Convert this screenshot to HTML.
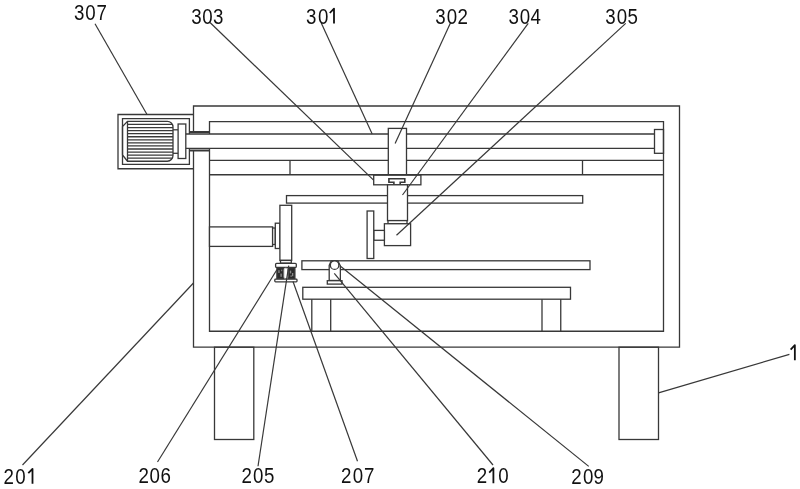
<!DOCTYPE html>
<html><head><meta charset="utf-8"><style>
html,body{margin:0;padding:0;background:#fff;}
svg{display:block;will-change:transform;}
text{font-family:"Liberation Sans",sans-serif;font-size:22.0px;fill:#111;}
</style></head><body>
<svg width="800" height="489" viewBox="0 0 800 489">
<g fill="none" stroke="#383838" stroke-width="1.3">
<path d="M193.5,131.9 V106 H679.5 V347.2 H193.5 V150.65" fill="none"/>
<path d="M209.5,134.0 V121.7 H663.5 V331.25 H209.5 V148.4" fill="none"/>
<rect x="214.5" y="347.2" width="39.3" height="92.3" fill="none"/>
<rect x="619" y="347.2" width="39.5" height="92.3" fill="none"/>
<path d="M193.5,114.5 H118 V168.75 H193.5" fill="none"/>
<path d="M189.4,134.0 V118.6 H122.5 V164.4 H189.4 V148.4" fill="none"/>
<path d="M127.5,121.4 H167.3 A5.7,5.7 0 0 1 173,127.1 V155.55 A5.7,5.7 0 0 1 167.3,161.25 H127.5 L122.5,155 V126.6 Z" fill="none"/>
<line x1="127.5" y1="121.4" x2="127.5" y2="161.25"/>
<line x1="127.5" y1="124.47" x2="172.36" y2="124.47"/>
<line x1="127.5" y1="127.53" x2="173" y2="127.53"/>
<line x1="127.5" y1="130.6" x2="173" y2="130.6"/>
<line x1="127.5" y1="133.66" x2="173" y2="133.66"/>
<line x1="127.5" y1="136.73" x2="173" y2="136.73"/>
<line x1="127.5" y1="139.79" x2="173" y2="139.79"/>
<line x1="127.5" y1="142.86" x2="173" y2="142.86"/>
<line x1="127.5" y1="145.92" x2="173" y2="145.92"/>
<line x1="127.5" y1="148.99" x2="173" y2="148.99"/>
<line x1="127.5" y1="152.05" x2="173" y2="152.05"/>
<line x1="127.5" y1="155.12" x2="173" y2="155.12"/>
<line x1="127.5" y1="158.18" x2="172.36" y2="158.18"/>
<line x1="173" y1="129.8" x2="178.1" y2="129.8"/>
<line x1="173" y1="153.3" x2="178.1" y2="153.3"/>
<rect x="178.1" y="124" width="7.7" height="34.5" fill="none"/>
<line x1="185.8" y1="134.0" x2="654.5" y2="134.0"/>
<line x1="185.8" y1="148.4" x2="654.5" y2="148.4"/>
<line x1="189.4" y1="132" x2="209.5" y2="132" stroke-width="2"/>
<line x1="189.4" y1="150.5" x2="209.5" y2="150.5" stroke-width="2"/>
<rect x="654.5" y="129.5" width="9.0" height="23.8" fill="none"/>
<line x1="209.5" y1="160.3" x2="663.5" y2="160.3"/>
<line x1="209.5" y1="174.85" x2="663.5" y2="174.85" stroke-width="1.5"/>
<line x1="290" y1="160.3" x2="290" y2="174.85"/>
<line x1="582.5" y1="160.3" x2="582.5" y2="174.85"/>
<rect x="286.5" y="195.6" width="296.2" height="7.5" fill="none"/>
<rect x="388.3" y="128.4" width="18.2" height="46.45" fill="#fff"/>
<rect x="373.7" y="174.85" width="47.2" height="9.95" fill="#fff"/>
<line x1="373.6" y1="174.85" x2="420.85" y2="174.85" stroke-width="1.8"/>
<path d="M393.9,184.8 V182.3 H388.9 V178.8 H404.8 V182.3 H400.2 V184.8" fill="none" stroke-width="1.6"/>
<rect x="387.5" y="184.8" width="20.0" height="35.8" fill="#fff"/>
<rect x="388" y="220.6" width="19" height="3.15" fill="#fff"/>
<rect x="384.4" y="223.75" width="26.2" height="21.85" fill="#fff"/>
<rect x="373.75" y="230.4" width="10.65" height="9.85" fill="#fff"/>
<rect x="367.1" y="211" width="6.65" height="47.5" fill="#fff"/>
<rect x="209.5" y="226.9" width="63.1" height="19.5" fill="#fff"/>
<rect x="272.6" y="228" width="2.7" height="16.5" fill="#fff"/>
<rect x="275.3" y="223.2" width="4.6" height="25.3" fill="#fff"/>
<rect x="279.9" y="205.3" width="11.8" height="55.1" fill="#fff"/>
<rect x="280.5" y="260.4" width="10.8" height="2.7" fill="#fff"/>
<rect x="275.6" y="263.3" width="20.7" height="4.1" fill="#fff" rx="1"/>
<rect x="276.9" y="267.8" width="6.5" height="11.1" fill="#2a2a2a"/>
<rect x="288.3" y="267.8" width="6.6" height="11.1" fill="#2a2a2a"/>
<rect x="278.3" y="270.2" width="1.3" height="2.8" fill="#8a8a8a" stroke="none"/>
<rect x="280.4" y="273.6" width="1.4" height="3.2" fill="#8a8a8a" stroke="none"/>
<rect x="289.8" y="270.6" width="1.4" height="2.8" fill="#8a8a8a" stroke="none"/>
<rect x="292.0" y="273.0" width="1.3" height="3.2" fill="#8a8a8a" stroke="none"/>
<rect x="281.2" y="269.6" width="1.0" height="1.6" fill="#8a8a8a" stroke="none"/>
<rect x="290.6" y="275.2" width="1.0" height="1.8" fill="#8a8a8a" stroke="none"/>
<rect x="283.9" y="268" width="3.9" height="10.8" rx="1.9" fill="#fff" stroke="#999" stroke-width="0.8"/>
<rect x="274.8" y="279.2" width="22.2" height="2.6" fill="#fff" rx="0.8"/>
<rect x="301.9" y="260.8" width="288.1" height="8.8" fill="none"/>
<path d="M331.2,261 H337.9 L340.35,265.8 V280.7 H329.2 V265.5 Z" fill="#fff"/>
<circle cx="334.6" cy="265.15" r="4.25" fill="#fff"/>
<line x1="329.2" y1="280.7" x2="340.35" y2="280.7" stroke-width="1.8"/>
<rect x="327.3" y="280.7" width="14.7" height="3.4" fill="#fff"/>
<rect x="302.8" y="287.3" width="267.7" height="11.9" fill="none"/>
<line x1="311.8" y1="299.2" x2="311.8" y2="331.25"/>
<line x1="330.7" y1="299.2" x2="330.7" y2="331.25"/>
<line x1="542" y1="299.3" x2="542" y2="331.25"/>
<line x1="560.75" y1="299.3" x2="560.75" y2="331.25"/>
<line x1="334.3" y1="273.3" x2="493" y2="465" stroke-width="1.2"/>
<line x1="339.9" y1="265.7" x2="588.75" y2="466.4" stroke-width="1.2"/>
<line x1="276.9" y1="269.7" x2="157.5" y2="462" stroke-width="1.2"/>
<line x1="288.75" y1="265.7" x2="258" y2="466.25" stroke-width="1.2"/>
<line x1="293" y1="281.5" x2="357.5" y2="461.25" stroke-width="1.2"/>
<line x1="193.5" y1="283" x2="22.5" y2="465" stroke-width="1.2"/>
<line x1="658.5" y1="392.8" x2="789.4" y2="354.4" stroke-width="1.2"/>
<line x1="95" y1="23.75" x2="147" y2="114.5" stroke-width="1.2"/>
<line x1="210" y1="22.5" x2="373.6" y2="180.1" stroke-width="1.2"/>
<line x1="321.25" y1="23" x2="372.2" y2="133.9" stroke-width="1.2"/>
<line x1="450.9" y1="22.1" x2="395.1" y2="143.6" stroke-width="1.2"/>
<line x1="528.2" y1="23.4" x2="402.5" y2="195" stroke-width="1.2"/>
<line x1="625.7" y1="23.4" x2="396.5" y2="235.25" stroke-width="1.2"/>
</g>
<g>
<text transform="translate(79.1,19.8) scale(0.85,1)" text-anchor="middle">3</text>
<text transform="translate(90.45,19.8) scale(0.85,1)" text-anchor="middle">0</text>
<text transform="translate(101.75,19.8) scale(0.85,1)" text-anchor="middle">7</text>
<text transform="translate(196.5,23.6) scale(0.85,1)" text-anchor="middle">3</text>
<text transform="translate(207.5,23.6) scale(0.85,1)" text-anchor="middle">0</text>
<text transform="translate(218.2,23.6) scale(0.85,1)" text-anchor="middle">3</text>
<text transform="translate(311.25,23.6) scale(0.85,1)" text-anchor="middle">3</text>
<text transform="translate(323.1,23.6) scale(0.85,1)" text-anchor="middle">0</text>
<text transform="translate(440.4,23.6) scale(0.85,1)" text-anchor="middle">3</text>
<text transform="translate(452.0,23.6) scale(0.85,1)" text-anchor="middle">0</text>
<text transform="translate(462.75,23.6) scale(0.85,1)" text-anchor="middle">2</text>
<text transform="translate(513.8,23.5) scale(0.85,1)" text-anchor="middle">3</text>
<text transform="translate(525.0,23.5) scale(0.85,1)" text-anchor="middle">0</text>
<text transform="translate(535.6,23.5) scale(0.85,1)" text-anchor="middle">4</text>
<text transform="translate(610.5,23.6) scale(0.85,1)" text-anchor="middle">3</text>
<text transform="translate(622.0,23.6) scale(0.85,1)" text-anchor="middle">0</text>
<text transform="translate(632.7,23.6) scale(0.85,1)" text-anchor="middle">5</text>
<text transform="translate(8.8,483.8) scale(0.85,1)" text-anchor="middle">2</text>
<text transform="translate(20.4,483.8) scale(0.85,1)" text-anchor="middle">0</text>
<text transform="translate(143.6,483.3) scale(0.85,1)" text-anchor="middle">2</text>
<text transform="translate(154.7,483.3) scale(0.85,1)" text-anchor="middle">0</text>
<text transform="translate(165.8,483.3) scale(0.85,1)" text-anchor="middle">6</text>
<text transform="translate(246.8,483.4) scale(0.85,1)" text-anchor="middle">2</text>
<text transform="translate(258.2,483.4) scale(0.85,1)" text-anchor="middle">0</text>
<text transform="translate(269.1,483.4) scale(0.85,1)" text-anchor="middle">5</text>
<text transform="translate(346.3,483.3) scale(0.85,1)" text-anchor="middle">2</text>
<text transform="translate(357.9,483.3) scale(0.85,1)" text-anchor="middle">0</text>
<text transform="translate(369.3,483.3) scale(0.85,1)" text-anchor="middle">7</text>
<text transform="translate(482.0,483.2) scale(0.85,1)" text-anchor="middle">2</text>
<text transform="translate(503.4,483.2) scale(0.85,1)" text-anchor="middle">0</text>
<text transform="translate(576.4,484.0) scale(0.85,1)" text-anchor="middle">2</text>
<text transform="translate(588.25,484.0) scale(0.85,1)" text-anchor="middle">0</text>
<text transform="translate(598.6,484.0) scale(0.85,1)" text-anchor="middle">9</text>
<g fill="none" stroke="#111" stroke-width="1.8" stroke-linejoin="round"><path d="M334.0,23.6 V8.6 L329.8,13.0"/><path d="M794.85,360.2 V345.2 L790.65,349.6"/><path d="M32.5,483.8 V468.8 L28.3,473.2"/><path d="M493.4,483.2 V468.2 L489.2,472.6"/></g>
</g>
</svg>
</body></html>
